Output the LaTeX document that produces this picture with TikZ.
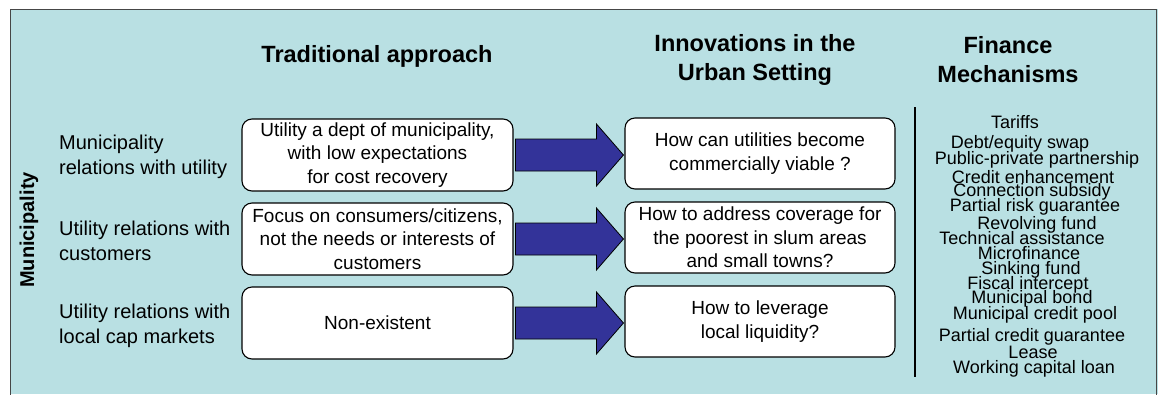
\documentclass[tikz,border=0pt]{standalone}
\usepackage{fontspec}
\setmainfont{Liberation Sans}
\usetikzlibrary{calc}
\definecolor{bgblue}{RGB}{185,224,227}
\definecolor{arrowblue}{RGB}{51,51,153}
\definecolor{framegray}{RGB}{70,70,70}
\newcommand\blockarrow[2]{%
  \draw[bigarrow] let \p1=(#1.east), \p2=(#2.west) in
    (\x1+2pt,\y1+16pt) -- (\x2-28pt,\y1+16pt) -- (\x2-28pt,\y1+31pt) --
    (\x2-1pt,\y1) -- (\x2-28pt,\y1-31pt) -- (\x2-28pt,\y1-16pt) --
    (\x1+2pt,\y1-16pt) -- cycle;}
\begin{document}
\begin{tikzpicture}[x=1pt,y=-1pt,
  rbox/.style={draw=black, line width=1.1pt, fill=white, rounded corners=10pt,
    minimum height=72pt, align=center, inner sep=0pt,
    font=\fontsize{19}{23.5}\selectfont},
  tradbox/.style={rbox, minimum width=271pt},
  innobox/.style={rbox, minimum width=270pt},
  header/.style={align=center, inner sep=0pt, font=\fontsize{23.5}{29}\selectfont\bfseries},
  rowlabel/.style={align=left, anchor=west, inner sep=0pt, font=\fontsize{20}{24.5}\selectfont},
  fin/.style={anchor=base, inner sep=0pt, font=\fontsize{18}{20}\selectfont},
  bigarrow/.style={draw=black, line width=0.8pt, fill=arrowblue, line join=miter}]
\useasboundingbox (0,0) rectangle (1158,394);
\fill[white] (0,0) rectangle (1158,394);
\fill[bgblue] (10,9) rectangle (1158,394);
\draw[framegray, line width=1pt] (10.5,400) -- (10.5,9.5) -- (1156.5,9.5) -- (1156.5,400);

% headers
\node[header, anchor=base] (h1) at (377,62) {Traditional approach};
\node[header] (h2) at (755,60) {Innovations in the\\Urban Setting};
\node[header] (h3) at (1008,60) {Finance\\Mechanisms};

% side label
\node[rotate=90, inner sep=0pt, font=\fontsize{20}{24}\selectfont\bfseries] (mun) at (29,230) {Municipality};

% row labels
\node[rowlabel] (l1) at (59,157) {Municipality\\relations with utility};
\node[rowlabel] (l2) at (59,241) {Utility relations with\\customers};
\node[rowlabel] (l3) at (59,326) {Utility relations with\\local cap markets};

% traditional boxes
\node[tradbox] (t1) at (377.5,155) {Utility a dept of municipality,\\with low expectations\\for cost recovery};
\node[tradbox] (t2) at (377.5,239) {Focus on consumers/citizens,\\not the needs or interests of\\customers};
\node[tradbox] (t3) at (377.5,323) {Non-existent};

% innovation boxes
\node[innobox, minimum height=71pt] (i1) at (760,153.5) {How can utilities become\\commercially viable ?};
\node[innobox, minimum height=71pt] (i2) at (760,237.5) {How to address coverage for\\the poorest in slum areas\\and small towns?};
\node[innobox, minimum height=71pt] (i3) at (760,321.5) {How to leverage\\local liquidity?};

% arrows
\blockarrow{t1}{i1}
\blockarrow{t2}{i2}
\blockarrow{t3}{i3}

% divider
\coordinate (vtop) at (915,107);
\coordinate (vbot) at (915,377);
\draw[black, line width=1.2pt] (vtop) -- (vbot);

% finance mechanisms
\node[fin] (f1) at (1015,128) {Tariffs};
\node[fin] (f2) at (1020,148) {Debt/equity swap};
\node[fin] (f3) at (1037,164.5) {Public-private partnership};
\node[fin] (f4) at (1033,183.5) {Credit enhancement};
\node[fin] (f5) at (1032,196.5) {Connection subsidy};
\node[fin] (f6) at (1035,211.5) {Partial risk guarantee};
\node[fin] (f7) at (1037,229) {Revolving fund};
\node[fin] (f8) at (1022,244.5) {Technical assistance};
\node[fin] (f9) at (1029,259) {Microfinance};
\node[fin] (f10) at (1031,274.5) {Sinking fund};
\node[fin] (f11) at (1028,289.5) {Fiscal intercept};
\node[fin] (f12) at (1032,303.5) {Municipal bond};
\node[fin] (f13) at (1035,319.5) {Municipal credit pool};
\node[fin] (f14) at (1032,341.5) {Partial credit guarantee};
\node[fin] (f15) at (1033,358) {Lease};
\node[fin] (f16) at (1034,373) {Working capital loan};
\end{tikzpicture}
\end{document}
